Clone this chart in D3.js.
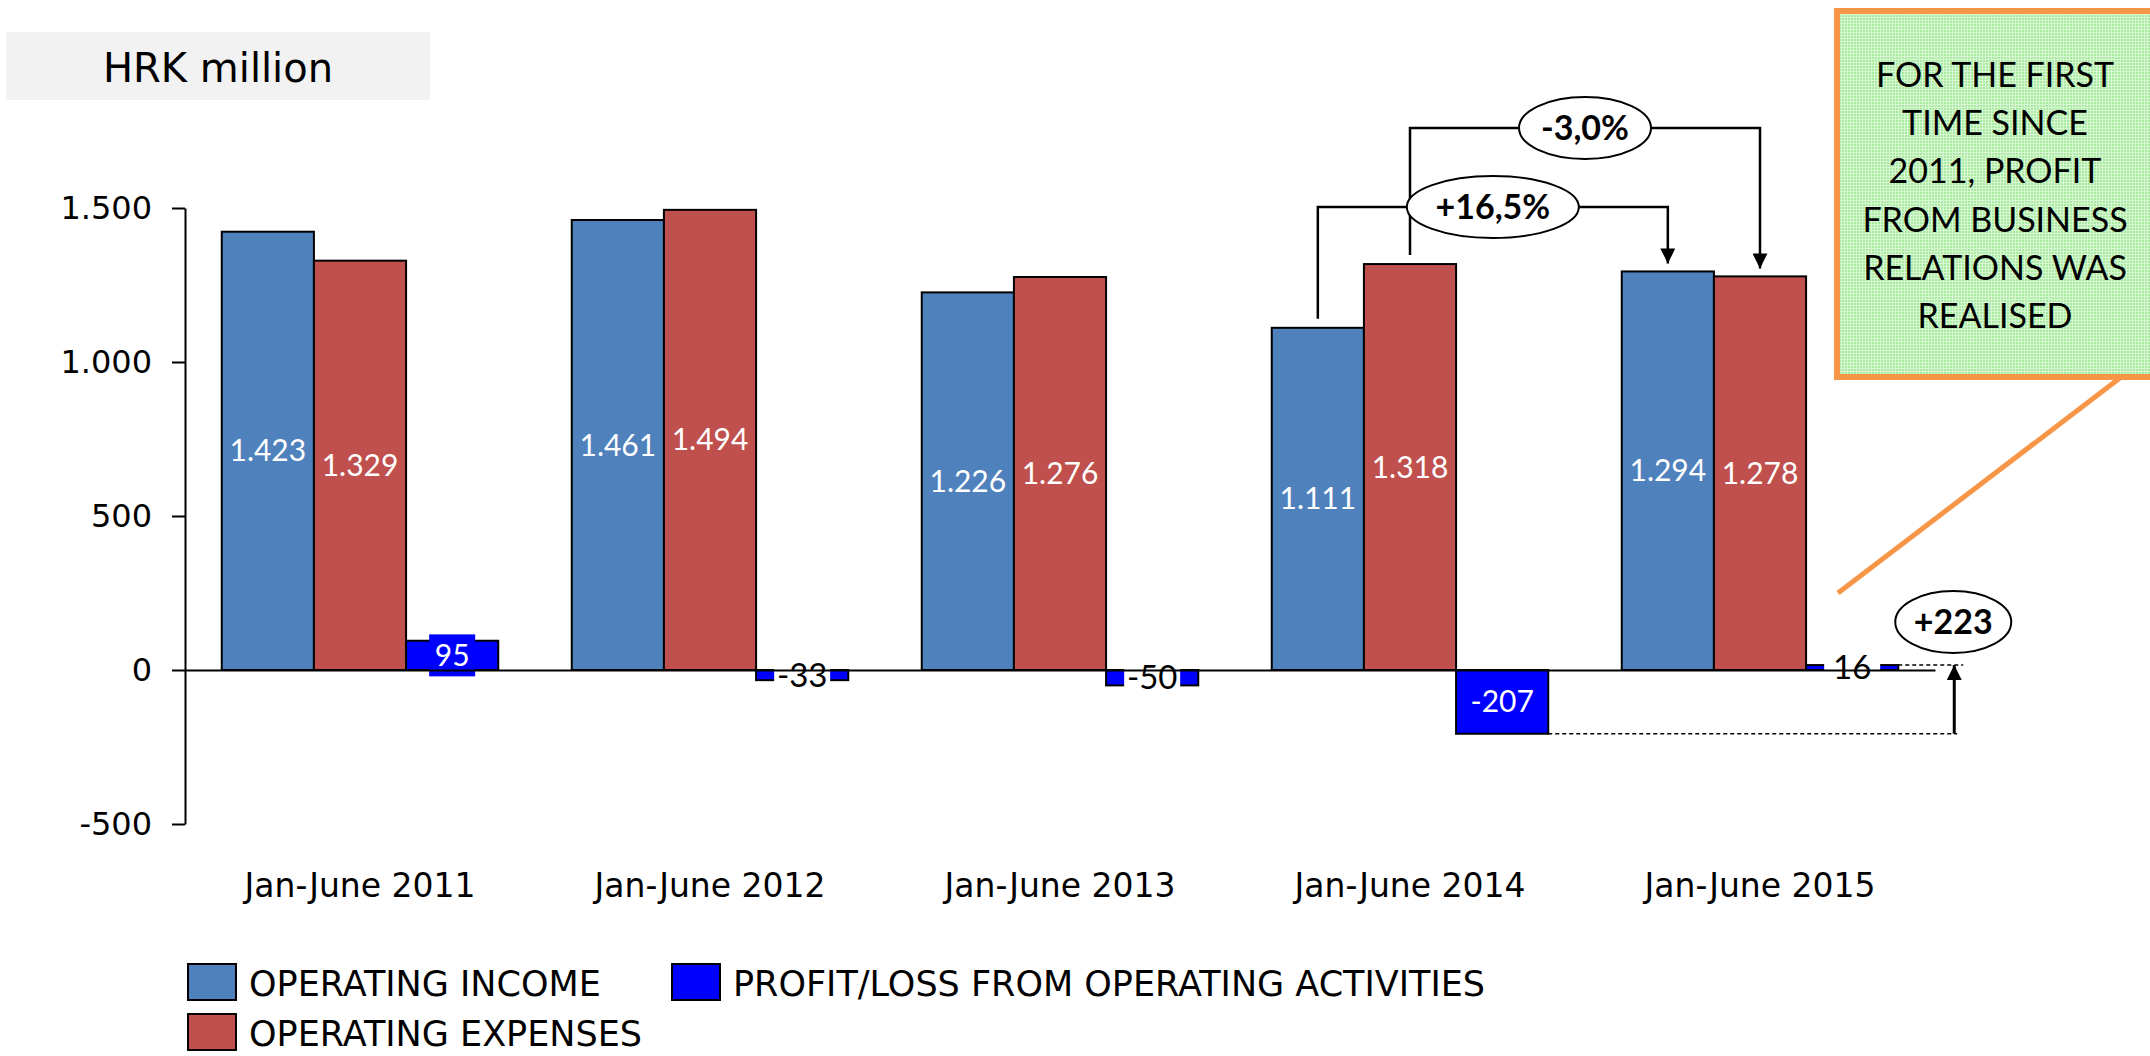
<!DOCTYPE html>
<html lang="en">
<head>
    <meta charset="UTF-8">
    <title>HRK million</title>
    <script src="https://cdn.jsdelivr.net/npm/d3@7"></script>
    <style>
        body { margin: 0; background: #fff; }
        text { font-family: "DejaVu Sans", Verdana, sans-serif; }
        .lbl { font-family: Lato, "Open Sans", sans-serif; }
    </style>
</head>
<body>
    <div class="container"></div>
    <script>
        // chart data
        const categories = ["Jan-June 2011", "Jan-June 2012", "Jan-June 2013", "Jan-June 2014", "Jan-June 2015"];
        const operatingIncome = [1423, 1461, 1226, 1111, 1294];
        const operatingExpenses = [1329, 1494, 1276, 1318, 1278];
        const operatingResult = [95, -33, -50, -207, 16];
        const yTicks = [-500, 0, 500, 1000, 1500];
        const seriesNames = ["OPERATING INCOME", "OPERATING EXPENSES", "PROFIT/LOSS FROM OPERATING ACTIVITIES"];
        const unitLabel = "HRK million";
        const noteLines = ["FOR THE FIRST", "TIME SINCE", "2011, PROFIT", "FROM BUSINESS", "RELATIONS WAS", "REALISED"];

        const width = 2150;
        const height = 1056;
        const colors = ["#4f81bd", "#c0504d", "#0000ff"];

        // croatian number format, plain hyphen for negatives
        const hr = d3.formatLocale({ decimal: ",", thousands: ".", grouping: [3], currency: ["", ""], minus: "-" });
        const fmt = hr.format(",d");
        const pct = v => (v > 0 ? "+" : "") + hr.format(",.1f")(v) + "%";

        const svg = d3.create("svg")
            .attr("width", width)
            .attr("height", height)
            .attr("viewBox", [0, 0, width, height]);

        // scales
        const x = d3.scaleBand()
            .domain(categories)
            .range([185, 1935])
            .paddingInner(0.21)
            .paddingOuter(0.105);

        const xs = d3.scaleBand()
            .domain([0, 1, 2])
            .range([0, x.bandwidth()]);

        const y = d3.scaleLinear()
            .domain([-500, 1500])
            .range([824, 208]);

        // unit box
        svg.append("rect")
            .attr("x", 6).attr("y", 32).attr("width", 424).attr("height", 68)
            .attr("fill", "#f2f2f2");
        svg.append("text")
            .attr("x", 103).attr("y", 82)
            .attr("font-size", 40)
            .text(unitLabel);

        // y axis
        svg.append("g")
            .attr("transform", "translate(185,0)")
            .call(d3.axisLeft(y).tickValues(yTicks).tickFormat(fmt).tickSize(13).tickSizeOuter(0).tickPadding(20))
            .call(g => g.selectAll("text").attr("font-size", 32).attr("font-family", "DejaVu Sans").attr("fill", "#000"))
            .call(g => g.selectAll("line, path").attr("stroke", "#000").attr("stroke-width", 2));

        // bars
        const rows = categories.map((c, i) => [operatingIncome[i], operatingExpenses[i], operatingResult[i]]
            .map((v, s) => ({ c, s, v })));

        const groups = svg.append("g")
            .selectAll("g")
            .data(rows)
            .join("g")
            .attr("transform", (d, i) => `translate(${x(categories[i])},0)`);

        groups.selectAll("rect")
            .data(d => d)
            .join("rect")
            .attr("x", d => xs(d.s))
            .attr("y", d => y(Math.max(0, d.v)))
            .attr("width", xs.bandwidth())
            .attr("height", d => Math.abs(y(d.v) - y(0)))
            .attr("fill", d => colors[d.s])
            .attr("stroke", "#000")
            .attr("stroke-width", 2);

        // x axis (zero line) and category labels
        svg.append("g")
            .attr("transform", `translate(0,${y(0)})`)
            .call(d3.axisBottom(x).tickSize(0).tickPadding(204))
            .call(g => g.select(".domain").attr("stroke", "#000").attr("stroke-width", 2))
            .call(g => g.selectAll("text").attr("font-size", 33).attr("font-family", "DejaVu Sans").attr("fill", "#000"));

        // value labels
        groups.each(function (d) {
            const g = d3.select(this);
            d.forEach(p => {
                const cx = xs(p.s) + xs.bandwidth() / 2;
                const cy = y(p.v / 2);
                if (p.s < 2 || Math.abs(p.v) > 150) {
                    // label inside the bar
                    g.append("text").attr("class", "lbl")
                        .attr("x", cx).attr("y", cy).attr("dy", "0.35em")
                        .attr("text-anchor", "middle").attr("font-size", 30)
                        .attr("fill", "#fff").text(fmt(p.v));
                    return;
                }
                const blueBox = p.v > 50;
                g.append("rect")
                    .attr("x", cx - (blueBox ? 23 : 28)).attr("y", cy - 21)
                    .attr("width", blueBox ? 46 : 56).attr("height", 42)
                    .attr("fill", blueBox ? colors[2] : "#fff");
                g.append("text").attr("class", "lbl")
                    .attr("x", cx).attr("y", cy).attr("dy", "0.35em")
                    .attr("text-anchor", "middle").attr("font-size", blueBox ? 30 : 33)
                    .attr("fill", blueBox ? "#fff" : "#000").text(fmt(p.v));
            });
        });

        // arrow marker
        svg.append("defs").append("marker")
            .attr("id", "arrow")
            .attr("viewBox", "0 0 10 10")
            .attr("refX", 10).attr("refY", 5)
            .attr("markerWidth", 17).attr("markerHeight", 15)
            .attr("markerUnits", "userSpaceOnUse")
            .attr("orient", "auto")
            .append("path").attr("d", "M0,0L10,5L0,10z").attr("fill", "#000");

        const barCx = (i, s) => x(categories[i]) + xs(s) + xs.bandwidth() / 2;

        // change brackets 2014 -> 2015
        function bracket(s, vals, level) {
            const x0 = barCx(3, s), x1 = barCx(4, s);
            svg.append("path")
                .attr("d", `M${x0},${y(vals[3]) - 9}V${level}H${x1}V${y(vals[4]) - 8}`)
                .attr("fill", "none").attr("stroke", "#000").attr("stroke-width", 2.5)
                .attr("marker-end", "url(#arrow)");
        }
        function bubble(cx, cy, rx, txt) {
            svg.append("ellipse")
                .attr("cx", cx).attr("cy", cy).attr("rx", rx).attr("ry", 31)
                .attr("fill", "#fff").attr("stroke", "#000").attr("stroke-width", 2);
            svg.append("text").attr("class", "lbl")
                .attr("x", cx).attr("y", cy).attr("dy", "0.36em")
                .attr("text-anchor", "middle").attr("font-size", 34).attr("font-weight", "bold")
                .text(txt);
        }
        bracket(1, operatingExpenses, 128);
        bracket(0, operatingIncome, 207);
        bubble((barCx(3, 1) + barCx(4, 1)) / 2, 128, 66,
            pct((operatingExpenses[4] - operatingExpenses[3]) / operatingExpenses[3] * 100));
        bubble((barCx(3, 0) + barCx(4, 0)) / 2, 207, 86,
            pct((operatingIncome[4] - operatingIncome[3]) / operatingIncome[3] * 100));

        // profit swing 2014 -> 2015
        const ax = x(categories[4]) + x.bandwidth() + 56;
        svg.append("line")
            .attr("x1", x(categories[3]) + xs(2) + xs.bandwidth()).attr("x2", ax + 3)
            .attr("y1", y(operatingResult[3])).attr("y2", y(operatingResult[3]))
            .attr("stroke", "#000").attr("stroke-width", 1.5).attr("stroke-dasharray", "4,3");
        svg.append("line")
            .attr("x1", x(categories[4]) + x.bandwidth()).attr("x2", ax + 9)
            .attr("y1", y(operatingResult[4])).attr("y2", y(operatingResult[4]))
            .attr("stroke", "#000").attr("stroke-width", 1.5).attr("stroke-dasharray", "4,3");
        svg.append("line")
            .attr("x1", ax).attr("x2", ax)
            .attr("y1", y(operatingResult[3])).attr("y2", y(operatingResult[4]))
            .attr("stroke", "#000").attr("stroke-width", 3)
            .attr("marker-end", "url(#arrow)");
        bubble(ax - 1, 622, 58, "+" + fmt(operatingResult[4] - operatingResult[3]));

        // note box
        const defs = svg.select("defs");
        const pat = defs.append("pattern")
            .attr("id", "dots").attr("width", 3).attr("height", 3)
            .attr("patternUnits", "userSpaceOnUse");
        pat.append("rect").attr("width", 3).attr("height", 3).attr("fill", "#d9f7d4");
        pat.append("rect").attr("width", 2).attr("height", 2).attr("fill", "#a6eb9e");

        svg.append("line")
            .attr("x1", 1838).attr("y1", 593).attr("x2", 2133).attr("y2", 368)
            .attr("stroke", "#f79646").attr("stroke-width", 5);
        svg.append("rect")
            .attr("x", 1837).attr("y", 11).attr("width", 340).attr("height", 366)
            .attr("fill", "url(#dots)").attr("stroke", "#f79646").attr("stroke-width", 6);
        svg.append("g")
            .selectAll("text")
            .data(noteLines)
            .join("text")
            .attr("class", "lbl")
            .attr("x", 1995)
            .attr("y", (d, i) => 87 + i * 48.2)
            .attr("text-anchor", "middle")
            .attr("font-size", 34)
            .text(d => d);

        // legend
        const legendPos = [[188, 964], [188, 1014], [672, 964]];
        const legend = svg.append("g")
            .selectAll("g")
            .data(seriesNames)
            .join("g")
            .attr("transform", (d, i) => `translate(${legendPos[i][0]},${legendPos[i][1]})`);
        legend.append("rect")
            .attr("width", 48).attr("height", 36)
            .attr("fill", (d, i) => colors[i])
            .attr("stroke", "#000").attr("stroke-width", 2);
        legend.append("text")
            .attr("x", 61).attr("y", 32)
            .attr("font-size", 35)
            .text(d => d);

        document.querySelector(".container").appendChild(svg.node());
    </script>
</body>
</html>
